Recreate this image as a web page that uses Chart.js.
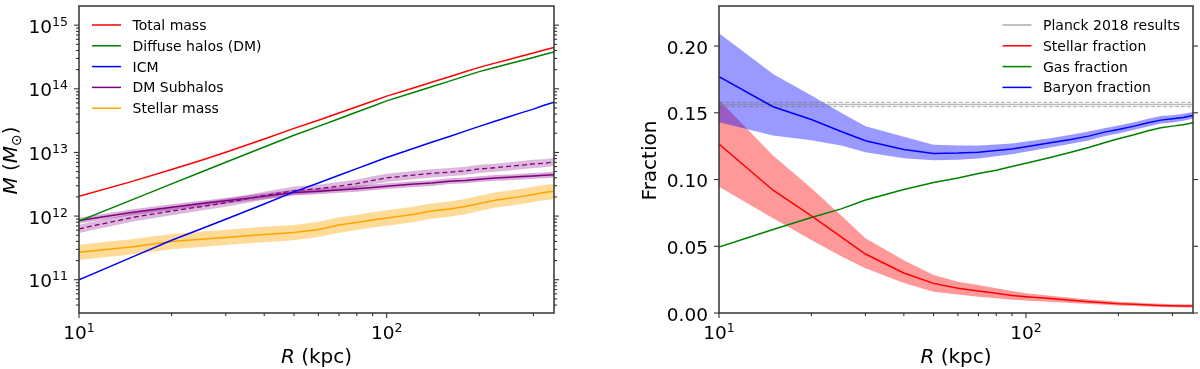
<!DOCTYPE html>
<html>
<head>
<meta charset="utf-8">
<script src="https://cdn.jsdelivr.net/npm/chart.js@4.4.0/dist/chart.umd.min.js"></script>
<style>
  html, body { margin: 0; padding: 0; background: #fff; }
  #wrap { position: relative; width: 1200px; height: 369px; }
  canvas { position: absolute; top: 0; }
  #massChart { left: 0; }
  #fracChart { left: 600px; }
</style>
</head>
<body>
<div id="wrap">
  <canvas id="massChart" width="600" height="369"></canvas>
  <canvas id="fracChart" width="600" height="369"></canvas>
</div>
<script>
/* two panels: enclosed mass profiles (log-log) and baryon fractions */

const radii = [10, 15, 20, 25, 30, 40, 50, 60, 70, 80, 90, 100, 120, 140, 160, 180, 200, 225, 250, 275, 300, 325, 350];

// left panel, M_sun
const totalMass = [2.05e12, 3.54e12, 5.41e12, 7.56e12, 1.01e13, 1.63e13, 2.39e13, 3.21e13, 4.16e13, 5.22e13, 6.39e13, 7.68e13, 1.005e14, 1.27e14, 1.55e14, 1.85e14, 2.17e14, 2.53e14, 2.89e14, 3.27e14, 3.65e14, 4.07e14, 4.47e14];
const diffuseMass = [8.32e11, 1.83e12, 3.21e12, 4.93e12, 7.00e12, 1.22e13, 1.86e13, 2.57e13, 3.39e13, 4.32e13, 5.33e13, 6.46e13, 8.51e13, 1.08e14, 1.32e14, 1.58e14, 1.86e14, 2.16e14, 2.47e14, 2.79e14, 3.11e14, 3.45e14, 3.78e14];
const icmMass = [1.00e11, 2.31e11, 4.17e11, 6.31e11, 8.91e11, 1.55e12, 2.40e12, 3.31e12, 4.37e12, 5.56e12, 6.87e12, 8.32e12, 1.12e13, 1.45e13, 1.78e13, 2.16e13, 2.57e13, 3.09e13, 3.63e13, 4.22e13, 4.79e13, 5.50e13, 6.17e13];
const subMass = [8.51e11, 1.15e12, 1.38e12, 1.57e12, 1.74e12, 2.04e12, 2.34e12, 2.45e12, 2.57e12, 2.69e12, 2.82e12, 2.95e12, 3.16e12, 3.31e12, 3.52e12, 3.63e12, 3.80e12, 3.98e12, 4.07e12, 4.17e12, 4.27e12, 4.37e12, 4.47e12];
const subHi = [9.45e11, 1.28e12, 1.53e12, 1.74e12, 1.93e12, 2.26e12, 2.60e12, 2.72e12, 2.85e12, 2.99e12, 3.13e12, 3.27e12, 3.51e12, 3.67e12, 3.94e12, 4.03e12, 4.22e12, 4.42e12, 4.52e12, 4.63e12, 4.74e12, 4.85e12, 4.96e12];
const subLo = [7.67e11, 1.04e12, 1.24e12, 1.41e12, 1.57e12, 1.84e12, 2.11e12, 2.21e12, 2.32e12, 2.42e12, 2.54e12, 2.66e12, 2.85e12, 2.98e12, 3.20e12, 3.27e12, 3.42e12, 3.59e12, 3.67e12, 3.76e12, 3.85e12, 3.94e12, 4.03e12];
const subAlt = [6.31e11, 9.55e11, 1.20e12, 1.41e12, 1.62e12, 2.09e12, 2.51e12, 2.69e12, 2.95e12, 3.24e12, 3.63e12, 3.98e12, 4.37e12, 4.68e12, 4.90e12, 5.13e12, 5.50e12, 5.75e12, 6.03e12, 6.31e12, 6.61e12, 6.76e12, 7.08e12];
const subAltHi = [7.32e11, 1.11e12, 1.39e12, 1.64e12, 1.88e12, 2.42e12, 2.91e12, 3.12e12, 3.42e12, 3.76e12, 4.21e12, 4.62e12, 5.07e12, 5.43e12, 5.68e12, 5.95e12, 6.38e12, 6.67e12, 6.99e12, 7.32e12, 7.67e12, 7.84e12, 8.21e12];
const subAltLo = [5.44e11, 8.23e11, 1.03e12, 1.22e12, 1.40e12, 1.80e12, 2.16e12, 2.32e12, 2.54e12, 2.79e12, 3.13e12, 3.43e12, 3.77e12, 4.03e12, 4.22e12, 4.42e12, 4.74e12, 4.96e12, 5.20e12, 5.44e12, 5.70e12, 5.83e12, 6.10e12];
const starMass = [2.69e11, 3.31e11, 3.98e11, 4.32e11, 4.62e11, 5.13e11, 5.50e11, 6.17e11, 7.24e11, 7.94e11, 8.71e11, 9.33e11, 1.05e12, 1.20e12, 1.29e12, 1.41e12, 1.58e12, 1.78e12, 1.91e12, 2.04e12, 2.19e12, 2.34e12, 2.45e12];
const starHi = [3.55e11, 4.37e11, 5.25e11, 5.70e11, 6.10e11, 6.77e11, 7.26e11, 8.14e11, 9.56e11, 1.05e12, 1.15e12, 1.23e12, 1.39e12, 1.58e12, 1.70e12, 1.86e12, 2.09e12, 2.35e12, 2.52e12, 2.69e12, 2.89e12, 3.09e12, 3.23e12];
const starLo = [2.04e11, 2.51e11, 3.02e11, 3.27e11, 3.50e11, 3.89e11, 4.17e11, 4.68e11, 5.49e11, 6.02e11, 6.60e11, 7.07e11, 7.96e11, 9.10e11, 9.78e11, 1.07e12, 1.20e12, 1.35e12, 1.45e12, 1.55e12, 1.66e12, 1.77e12, 1.86e12];

// right panel, fractions
const baryonFrac = [0.177, 0.1545, 0.145, 0.136, 0.129, 0.1225, 0.1195, 0.1198, 0.1205, 0.1218, 0.1228, 0.1245, 0.1275, 0.130, 0.1325, 0.1355, 0.1375, 0.140, 0.1425, 0.1445, 0.1455, 0.1465, 0.148];
const baryonHi = [0.2095, 0.179, 0.163, 0.150, 0.140, 0.132, 0.126, 0.1255, 0.1255, 0.1262, 0.127, 0.1285, 0.131, 0.1335, 0.136, 0.1385, 0.1405, 0.143, 0.1455, 0.1475, 0.1482, 0.1492, 0.1505];
const baryonLo = [0.143, 0.133, 0.1295, 0.1255, 0.1205, 0.116, 0.1145, 0.1148, 0.1158, 0.1175, 0.119, 0.1208, 0.124, 0.1268, 0.1292, 0.1325, 0.1345, 0.1372, 0.1398, 0.142, 0.1428, 0.144, 0.1455];
const stellarFrac = [0.1266, 0.092, 0.0727, 0.057, 0.0442, 0.030, 0.0222, 0.0185, 0.0165, 0.0148, 0.0132, 0.0122, 0.0108, 0.0095, 0.0085, 0.0077, 0.0070, 0.0065, 0.0060, 0.0057, 0.0054, 0.0053, 0.0052];
const stellarHi = [0.1596, 0.118, 0.0934, 0.073, 0.056, 0.0395, 0.0285, 0.0235, 0.021, 0.0185, 0.0165, 0.0148, 0.0130, 0.0114, 0.0102, 0.0093, 0.0085, 0.0079, 0.0073, 0.0069, 0.0066, 0.0065, 0.0064];
const stellarLo = [0.0946, 0.071, 0.0547, 0.0425, 0.0335, 0.0225, 0.016, 0.0138, 0.0122, 0.011, 0.0099, 0.0094, 0.0084, 0.0075, 0.0067, 0.0061, 0.0056, 0.0052, 0.0048, 0.0045, 0.0043, 0.0042, 0.0041];
const gasFrac = [0.0495, 0.0625, 0.0715, 0.078, 0.0846, 0.0925, 0.0978, 0.1012, 0.1045, 0.107, 0.1098, 0.1122, 0.1165, 0.1205, 0.124, 0.1275, 0.1305, 0.1335, 0.1365, 0.1388, 0.140, 0.141, 0.1425];
const planckFb = 0.1562;
const planckBounds = [0.1546, 0.1578];

// axes
const rRange = [10, 350];
const massRange = [3e10, 2e15];
const fracRange = [0, 0.23];
const massTicks = [1e11, 1e12, 1e13, 1e14, 1e15];
const radiusTicks = [10, 100];
const radiusMinor = [20, 30, 40, 50, 60, 70, 80, 90, 200, 300];
const fracTicks = [0, 0.05, 0.10, 0.15, 0.20];

const FONT = 'DejaVu Sans';
const AXC = '#333333';

function series(vals) { return radii.map((r, i) => ({ x: r, y: vals[i] })); }

function line(label, vals, color, extra) {
  return Object.assign({ label, data: series(vals), borderColor: color, borderWidth: 1.5,
    pointRadius: 0, fill: false, tension: 0, order: 1 }, extra || {});
}

function band(hi, lo, color, order) {
  return [
    { data: series(hi), borderWidth: 0, borderColor: 'transparent', pointRadius: 0, backgroundColor: color, fill: '+1', order },
    { data: series(lo), borderWidth: 0, borderColor: 'transparent', pointRadius: 0, fill: false, order },
  ];
}

function logMinor(lo, hi) {
  const out = [];
  for (let e = Math.floor(Math.log10(lo)); e <= Math.ceil(Math.log10(hi)); e++) {
    for (let k = 2; k <= 9; k++) { const v = k * Math.pow(10, e); if (v > lo && v < hi) out.push(v); }
  }
  return out;
}

// draws a run of text pieces (italic, sub/superscripts) starting at x
function rich(ctx, parts, x, y, align) {
  let w = 0;
  parts.forEach((p) => {
    ctx.font = `${p.style || 'normal'} ${p.size}px "${FONT}"`;
    p.w = ctx.measureText(p.t).width; w += p.w;
  });
  let cx = align === 'center' ? x - w / 2 : align === 'right' ? x - w : x;
  ctx.textAlign = 'left'; ctx.textBaseline = 'alphabetic';
  parts.forEach((p) => {
    ctx.font = `${p.style || 'normal'} ${p.size}px "${FONT}"`;
    ctx.fillText(p.t, cx, y + (p.dy || 0));
    cx += p.w;
  });
}

const pow10 = (v) => [{ t: '10', size: 18.5 }, { t: String(Math.round(Math.log10(v))), size: 12.5, dy: -7 }];

const mplAxes = {
  id: 'mplAxes',
  afterDatasetsDraw(chart, args, o) {
    const { ctx, chartArea: a, scales: { x, y } } = chart;
    ctx.save();
    ctx.strokeStyle = AXC;
    ctx.lineWidth = 1.5;
    ctx.strokeRect(a.left, a.top, a.right - a.left, a.bottom - a.top);

    const tick = (px, py, dx, dy) => { ctx.beginPath(); ctx.moveTo(px, py); ctx.lineTo(px + dx, py + dy); ctx.stroke(); };
    ctx.lineWidth = 1.1;
    o.xMajor.forEach((v) => tick(x.getPixelForValue(v), a.bottom, 0, 5));
    o.xMinor.forEach((v) => tick(x.getPixelForValue(v), a.bottom, 0, 3));
    o.yMajor.forEach((v) => { const py = y.getPixelForValue(v); tick(a.left, py, -5, 0); tick(a.right, py, 5, 0); });
    o.yMinor.forEach((v) => { const py = y.getPixelForValue(v); tick(a.left, py, -3, 0); tick(a.right, py, 3, 0); });

    ctx.fillStyle = '#000';
    o.xMajor.forEach((v) => rich(ctx, o.xLabel(v), x.getPixelForValue(v), a.bottom + 26, 'center'));
    o.yMajor.forEach((v) => rich(ctx, o.yLabel(v), a.left - 11, y.getPixelForValue(v) + 7.5, 'right'));

    rich(ctx, [{ t: 'R', size: 20, style: 'italic' }, { t: ' (kpc)', size: 20 }], (a.left + a.right) / 2, 363, 'center');
    ctx.save();
    ctx.translate(o.yTitleX, (a.top + a.bottom) / 2 + 1);
    ctx.rotate(-Math.PI / 2);
    rich(ctx, o.yTitle, 0, 0, 'center');
    ctx.restore();

    // legend, no frame
    const items = chart.data.datasets.filter((d) => d.label);
    ctx.font = `14px "${FONT}"`;
    const maxW = Math.max(...items.map((d) => ctx.measureText(d.label).width));
    const x0 = o.legendSide === 'left' ? a.left + 13 : a.right - 13 - maxW - 11.5 - 29;
    items.forEach((d, i) => {
      const cy = a.top + 19 + i * 20.8;
      ctx.strokeStyle = d.legendColor || d.borderColor;
      ctx.lineWidth = 1.5;
      ctx.setLineDash([]);
      tick(x0, cy, 29, 0);
      ctx.fillStyle = '#000';
      ctx.font = `14px "${FONT}"`;
      ctx.fillText(d.label, x0 + 40.5, cy + 5);
    });
    ctx.restore();
  },
};

const common = {
  responsive: false,
  animation: false,
  devicePixelRatio: 1,
  plugins: { legend: { display: false }, tooltip: { enabled: false } },
};

new Chart(document.getElementById('massChart'), {
  type: 'line',
  data: {
    datasets: [
      line('Total mass', totalMass, '#ff0000'),
      line('Diffuse halos (DM)', diffuseMass, '#008000'),
      line('ICM', icmMass, '#0000ff'),
      line('DM Subhalos', subMass, '#800080'),
      line('Stellar mass', starMass, '#ffa500'),
      line(undefined, subAlt, '#800080', { borderDash: [5, 3], borderWidth: 1.3 }),
      ...band(subHi, subLo, 'rgba(128,0,128,0.32)', 5),
      ...band(subAltHi, subAltLo, 'rgba(128,0,128,0.28)', 6),
      ...band(starHi, starLo, 'rgba(255,165,0,0.4)', 7),
    ],
  },
  options: Object.assign({}, common, {
    layout: { padding: { left: 79, top: 6, right: 46, bottom: 56 } },
    scales: {
      x: { type: 'logarithmic', min: rRange[0], max: rRange[1], display: false },
      y: { type: 'logarithmic', min: massRange[0], max: massRange[1], display: false },
    },
    plugins: Object.assign({}, common.plugins, {
      mplAxes: {
        xMajor: radiusTicks, xMinor: radiusMinor, xLabel: pow10,
        yMajor: massTicks, yMinor: logMinor(massRange[0], massRange[1]), yLabel: pow10,
        yTitleX: 17, legendSide: 'left',
        yTitle: [
          { t: 'M', size: 20, style: 'italic' }, { t: ' (', size: 20 },
          { t: 'M', size: 20, style: 'italic' }, { t: '\u2299', size: 14, dy: 4 }, { t: ')', size: 20 },
        ],
      },
    }),
  }),
  plugins: [mplAxes],
});

const flat = (v) => rRange.map((r) => ({ x: r, y: v }));

new Chart(document.getElementById('fracChart'), {
  type: 'line',
  data: {
    datasets: [
      { label: 'Planck 2018 results', data: flat(planckFb), borderColor: 'rgba(128,128,128,0.55)', legendColor: '#aaaaaa',
        borderWidth: 1.6, pointRadius: 0, fill: false, order: 3 },
      line('Stellar fraction', stellarFrac, '#ff0000'),
      line('Gas fraction', gasFrac, '#008000'),
      line('Baryon fraction', baryonFrac, '#0000ff'),
      ...planckBounds.map((v) => ({ data: flat(v), borderColor: 'rgba(110,110,110,0.7)', borderWidth: 0.8,
        borderDash: [4, 2], pointRadius: 0, fill: false, order: 3 })),
      ...band(baryonHi, baryonLo, 'rgba(0,0,255,0.4)', 5),
      ...band(stellarHi, stellarLo, 'rgba(255,0,0,0.4)', 6),
    ],
  },
  options: Object.assign({}, common, {
    layout: { padding: { left: 119, top: 6, right: 7, bottom: 56 } },
    scales: {
      x: { type: 'logarithmic', min: rRange[0], max: rRange[1], display: false },
      y: { type: 'linear', min: fracRange[0], max: fracRange[1], display: false },
    },
    plugins: Object.assign({}, common.plugins, {
      mplAxes: {
        xMajor: radiusTicks, xMinor: radiusMinor, xLabel: pow10,
        yMajor: fracTicks, yMinor: [], yLabel: (v) => [{ t: v.toFixed(2), size: 18.5 }],
        yTitleX: 56, legendSide: 'right',
        yTitle: [{ t: 'Fraction', size: 20 }],
      },
    }),
  }),
  plugins: [mplAxes],
});
</script>
</body>
</html>
